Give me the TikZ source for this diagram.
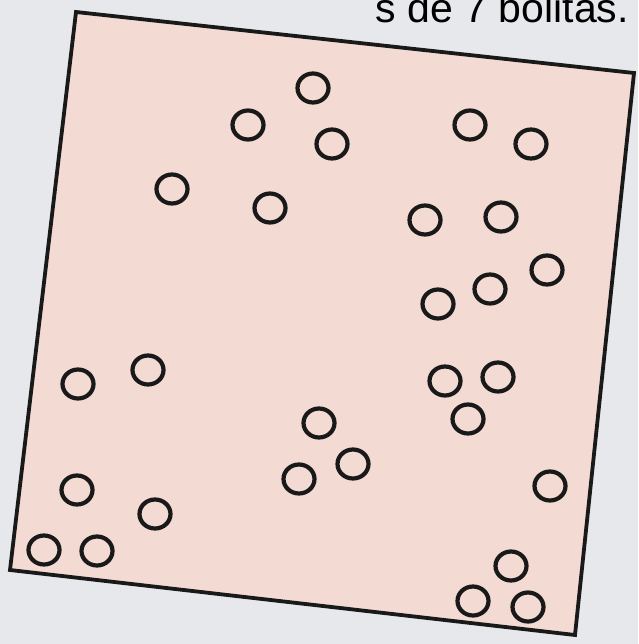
\documentclass[tikz,border=0pt]{standalone}
\usepackage{fontspec}
\setmainfont{Liberation Sans}
\usetikzlibrary{shapes.geometric}
\definecolor{papel}{HTML}{E7E8EB}
\definecolor{rosa}{HTML}{F3DBD4}
\tikzset{
  bolita/.style={ellipse, draw=black!90, line width=4.2pt, minimum width=31pt, minimum height=29pt, inner sep=0pt},
  marco/.style={draw=black!90, line width=3.8pt, fill=rosa, line join=miter}
}
\begin{document}
\begin{tikzpicture}[x=1pt,y=-1pt]
\useasboundingbox[fill=papel] (0,0) rectangle (638,644);
% caption, cut off at the top
\node[anchor=base east, inner sep=0pt, font=\fontsize{41}{41}\selectfont] (texto) at (629,23) {s de 7 bolitas.};
% the box
\coordinate (no) at (76,12);
\coordinate (ne) at (634,73);
\coordinate (se) at (575,635);
\coordinate (so) at (10,570);
\draw[marco] (no) -- (ne) -- (se) -- (so) -- cycle;
% the marbles
\foreach \x/\y [count=\i] in {313/88, 248/125, 332/144, 470/125, 531/144,
    172/189, 270/208, 425/220, 501/217, 547/270, 490/289, 438/304,
    78/384, 148/370, 445/381, 498/377, 468/419, 319/423, 353/464,
    299/479, 550/486, 77/490, 155/514, 44/550, 97/551, 511/566,
    473/601, 528/607}
  \node[bolita] (b\i) at (\x,\y) {};
\end{tikzpicture}
\end{document}
